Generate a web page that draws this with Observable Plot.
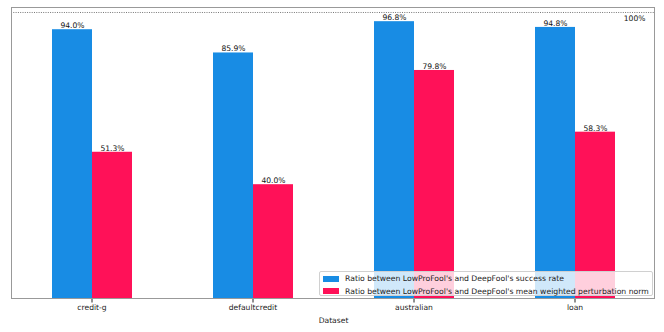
<!DOCTYPE html>
<html>
<head>
<meta charset="utf-8">
<script src="https://cdn.jsdelivr.net/npm/d3@7"></script>
<script src="https://cdn.jsdelivr.net/npm/@observablehq/plot@0.6"></script>
<style>
  html, body { margin: 0; padding: 0; background: #fff; }
  #wrap { position: relative; width: 664px; height: 332px; font-family: "DejaVu Sans", sans-serif; }
  #legend {
    position: absolute; left: 319px; top: 271px; width: 332px; height: 23px;
    background: rgba(255,255,255,0.8); border: 1px solid #d0d0d0; border-radius: 2px;
    font-size: 7.7px; color: #222; padding: 0;
  }
  .row { position: absolute; left: 3px; height: 12px; display: flex; align-items: center; white-space: nowrap; }
  .sw { width: 16px; height: 6px; margin-right: 6px; }
</style>
</head>
<body>
<div id="wrap"></div>
<script>
const datasets = ["credit-g", "defaultcredit", "australian", "loan"];
const successRatio = [94.0, 85.9, 96.8, 94.8];
const normRatio = [51.3, 40.0, 79.8, 58.3];
const seriesNames = [
  "Ratio between LowProFool's and DeepFool's success rate",
  "Ratio between LowProFool's and DeepFool's mean weighted perturbation norm"
];
const colors = ["#188ce4", "#ff1158"];
const refLine = 100;
const yMax = 101.74;

const data = datasets.flatMap((d, i) => [
  {dataset: d, series: seriesNames[0], value: successRatio[i]},
  {dataset: d, series: seriesNames[1], value: normRatio[i]}
]);

const W = 664, H = 332, mL = 11, mR = 9, mT = 7, mB = 33;

const chart = Plot.plot({
  width: W, height: H,
  marginLeft: mL, marginRight: mR, marginTop: mT, marginBottom: mB,
  style: {fontFamily: "DejaVu Sans, sans-serif", fontSize: "7.6px", color: "#222", background: "white"},
  fx: {domain: datasets, padding: 0, axis: "bottom", tickSize: 3.5, tickPadding: 2, label: "Dataset", labelAnchor: "center", labelOffset: 23.5},
  x: {domain: seriesNames, paddingInner: 0, paddingOuter: 1, axis: null},
  y: {domain: [0, yMax], axis: null},
  color: {domain: seriesNames, range: colors},
  marks: [
    Plot.ruleY([refLine], {stroke: "#777", strokeWidth: 1, strokeDasharray: "1,1.3"}),
    Plot.barY(data, {fx: "dataset", x: "series", y: "value", fill: "series"}),
    Plot.text(data, {fx: "dataset", x: "series", y: "value", text: d => d.value.toFixed(1) + "%", lineAnchor: "bottom", dy: -1.5, fill: "#111"}),
    Plot.text([{dataset: "loan", v: refLine}], {fx: "dataset", y: "v", text: d => d.v + "%", frameAnchor: "right", textAnchor: "end", dx: -10, lineAnchor: "top", dy: 3, fill: "#111"})
  ]
});

// outer frame around the whole plot area
d3.select(chart).append("rect")
  .attr("x", mL + 0.5).attr("y", mT + 0.5)
  .attr("width", W - mL - mR - 1).attr("height", H - mT - mB - 1)
  .attr("fill", "none").attr("stroke", "#999").attr("stroke-width", 1);

const wrap = document.getElementById("wrap");
wrap.appendChild(chart);

const legend = document.createElement("div");
legend.id = "legend";
seriesNames.forEach((s, i) => {
  const row = document.createElement("div");
  row.className = "row";
  row.style.top = (0.5 + i * 12.5) + "px";
  const sw = document.createElement("div");
  sw.className = "sw";
  sw.style.background = colors[i];
  const t = document.createElement("span");
  t.textContent = s;
  row.appendChild(sw); row.appendChild(t);
  legend.appendChild(row);
});
wrap.appendChild(legend);
</script>
</body>
</html>
